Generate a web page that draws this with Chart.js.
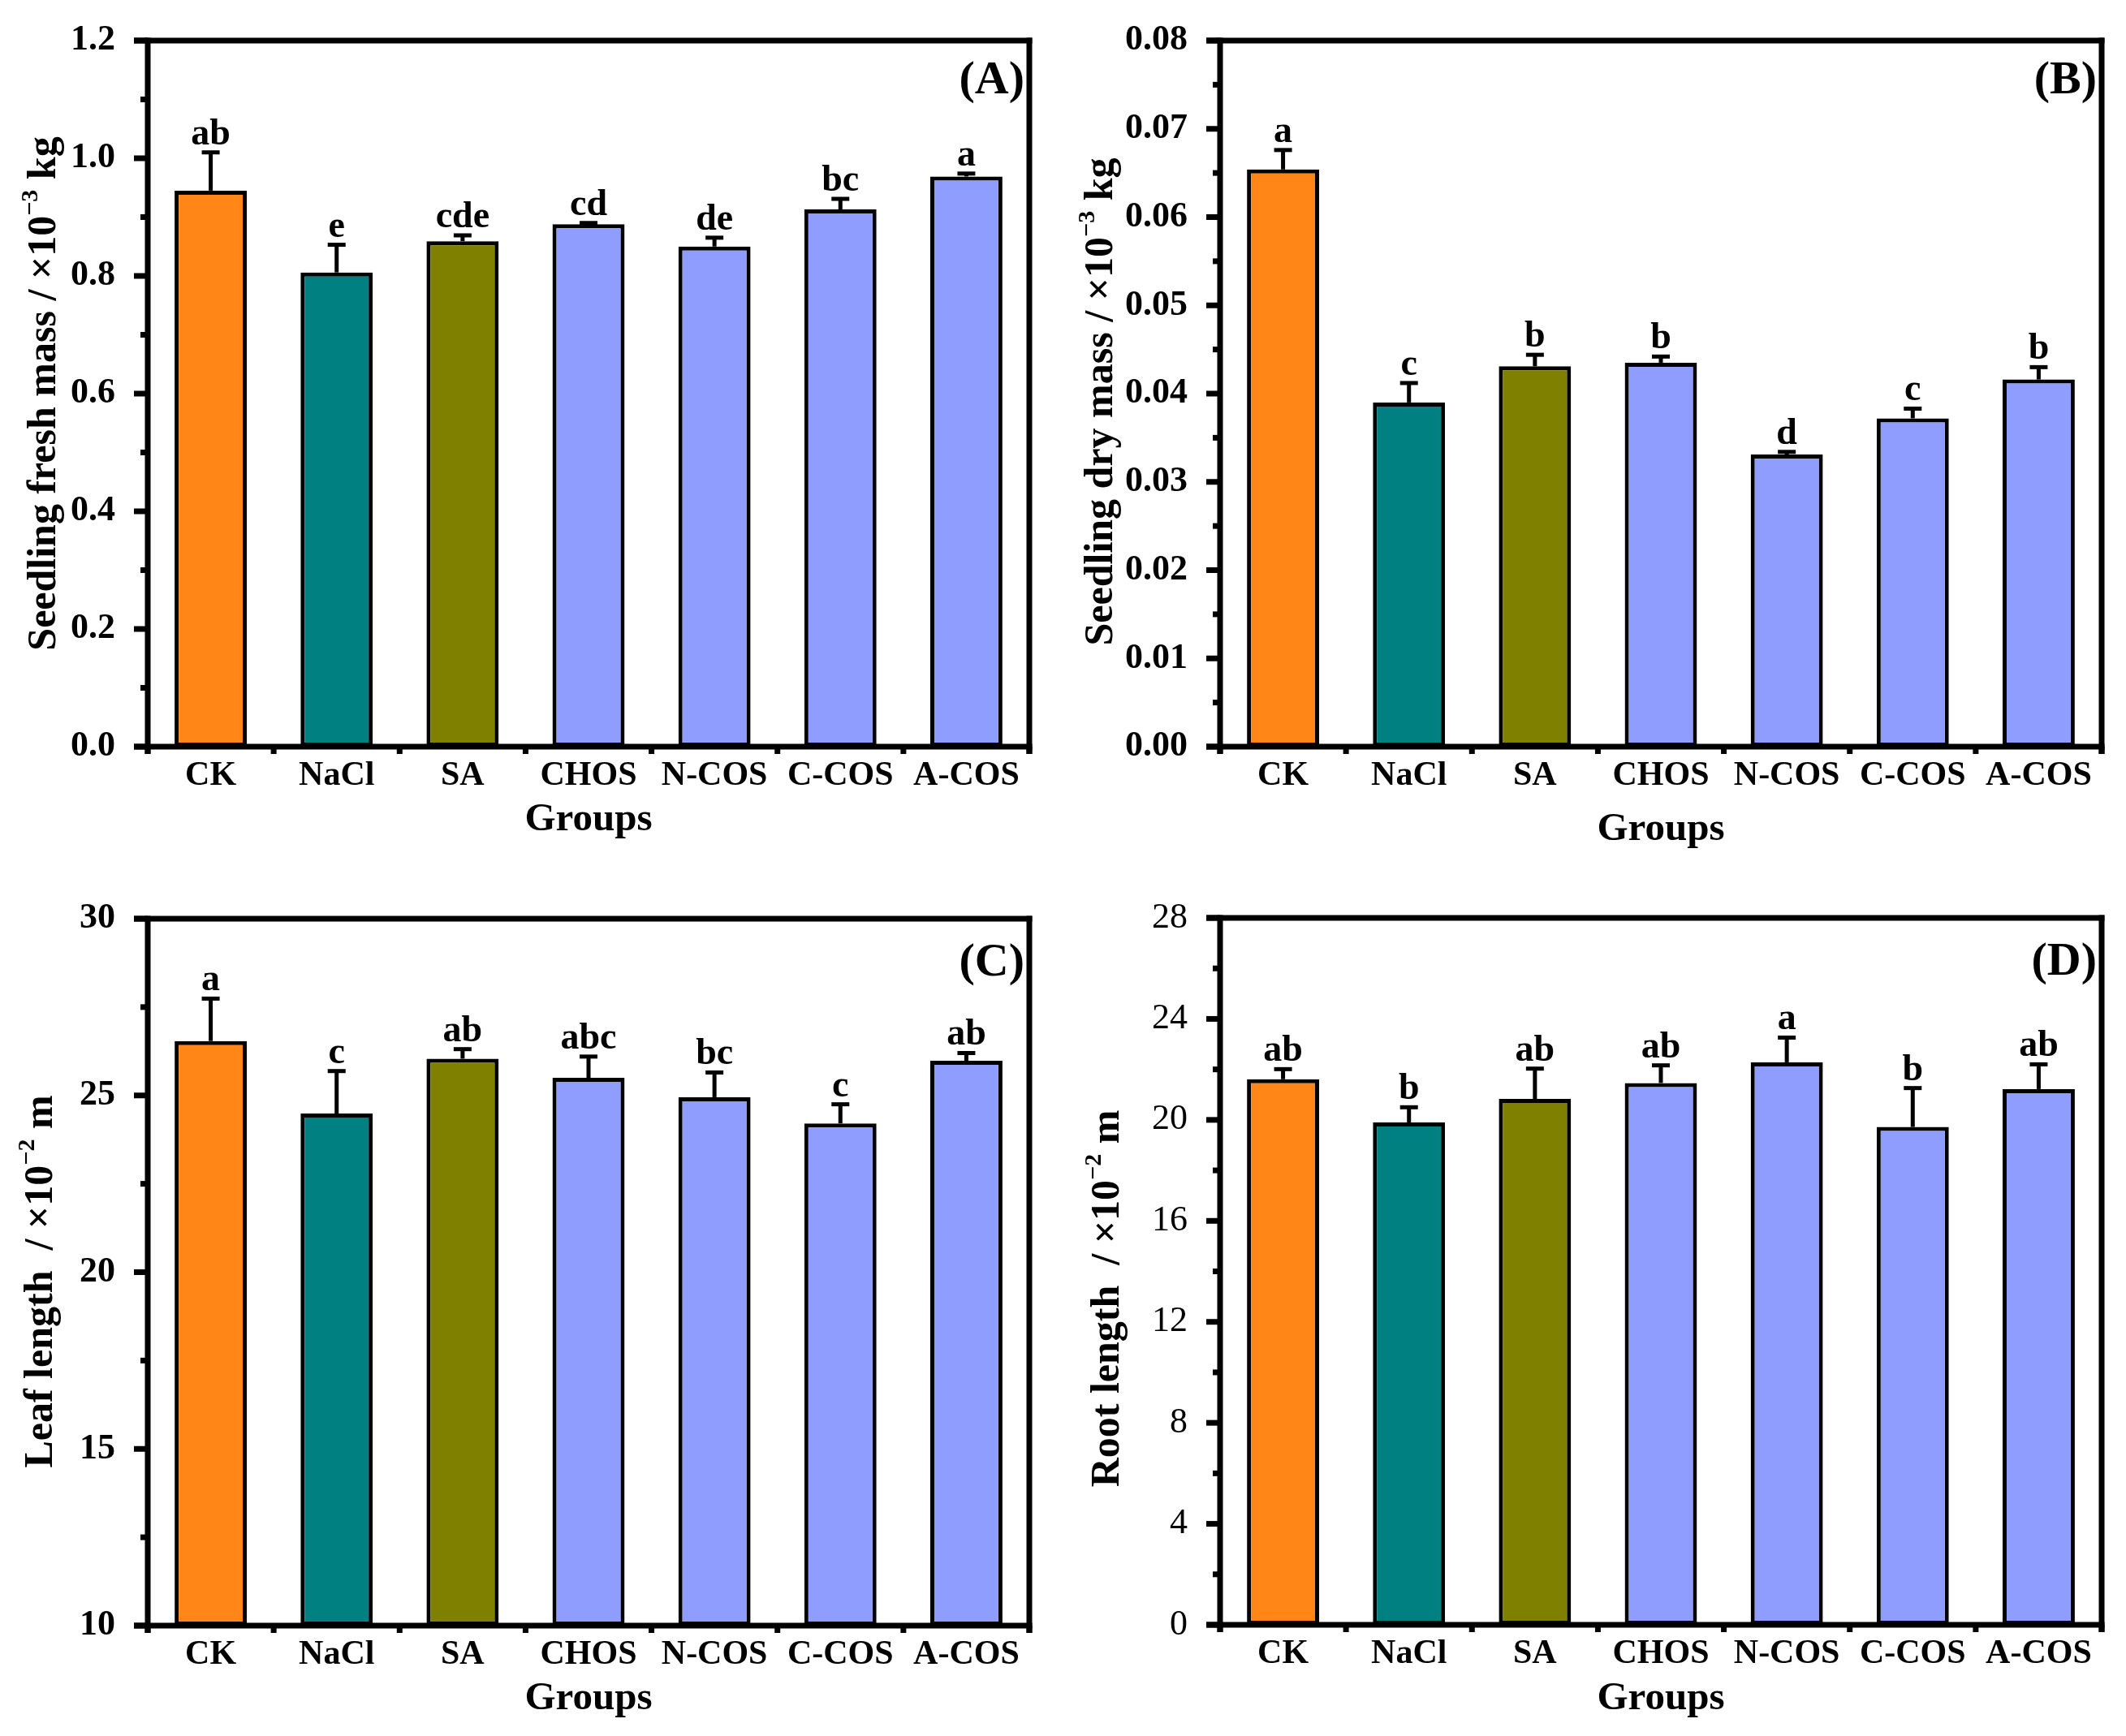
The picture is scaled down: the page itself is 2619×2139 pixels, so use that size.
<!DOCTYPE html>
<html>
<head>
<meta charset="utf-8">
<script src="https://cdn.jsdelivr.net/npm/chart.js@4.4.1/dist/chart.umd.min.js"></script>
<style>
  body { margin: 0; background: #fff; width: 2619px; height: 2139px; position: relative; overflow: hidden; }
  canvas { position: absolute; }
</style>
</head>
<body>
<canvas id="chartA" width="1310" height="1070" style="left:0px;top:0px;width:1310px;height:1070px"></canvas>
<canvas id="chartB" width="1309" height="1070" style="left:1310px;top:0px;width:1309px;height:1070px"></canvas>
<canvas id="chartC" width="1310" height="1069" style="left:0px;top:1070px;width:1310px;height:1069px"></canvas>
<canvas id="chartD" width="1309" height="1069" style="left:1310px;top:1070px;width:1309px;height:1069px"></canvas>
<script>
const groups = ['CK', 'NaCl', 'SA', 'CHOS', 'N-COS', 'C-COS', 'A-COS'];
const barColors = ['#FF8617', '#008080', '#808000', '#8E9DFF', '#8E9DFF', '#8E9DFF', '#8E9DFF'];

// (A) seedling fresh mass
const freshMass = [0.945, 0.806, 0.859, 0.888, 0.850, 0.913, 0.969];
const freshMassSd = [0.065, 0.047, 0.010, 0.002, 0.015, 0.018, 0.005];
const freshMassSig = ['ab', 'e', 'cde', 'cd', 'de', 'bc', 'a'];

// (B) seedling dry mass
const dryMass = [0.0654, 0.0390, 0.0431, 0.0435, 0.0331, 0.0372, 0.0416];
const dryMassSd = [0.0022, 0.0022, 0.0013, 0.0007, 0.0003, 0.0011, 0.0014];
const dryMassSig = ['a', 'c', 'b', 'b', 'd', 'c', 'b'];

// (C) leaf length
const leafLength = [26.54, 24.49, 26.04, 25.50, 24.95, 24.21, 25.98];
const leafLengthSd = [1.20, 1.20, 0.27, 0.60, 0.70, 0.54, 0.22];
const leafLengthSig = ['a', 'c', 'ab', 'abc', 'bc', 'c', 'ab'];

// (D) root length
const rootLength = [21.61, 19.90, 20.83, 21.46, 22.28, 19.72, 21.22];
const rootLengthSd = [0.40, 0.60, 1.20, 0.70, 0.98, 1.54, 0.98];
const rootLengthSig = ['ab', 'b', 'ab', 'ab', 'a', 'b', 'ab'];

const FONT = '"Liberation Serif", "Times New Roman", serif';

function line(ctx, x1, y1, x2, y2) {
  ctx.beginPath();
  ctx.moveTo(x1, y1);
  ctx.lineTo(x2, y2);
  ctx.stroke();
}

// error bars, letters, frame, ticks, y title and panel tag
const panelDeco = {
  id: 'panelDeco',
  afterDatasetsDraw(chart, args, o) {
    const ctx = chart.ctx;
    const xs = chart.scales.x, ys = chart.scales.y;
    const { left, right, top, bottom } = chart.chartArea;
    const vals = chart.data.datasets[0].data;
    ctx.save();
    ctx.strokeStyle = '#000';
    ctx.fillStyle = '#000';
    ctx.lineCap = 'butt';

    // error bars + letters
    vals.forEach((v, i) => {
      const px = xs.getPixelForValue(i);
      const y0 = ys.getPixelForValue(v);
      const y1 = ys.getPixelForValue(v + o.sd[i]);
      ctx.lineWidth = 5;
      line(ctx, px, y0, px, y1);
      line(ctx, px - 11, y1, px + 11, y1);
      ctx.font = 'bold 46px ' + FONT;
      ctx.textAlign = 'center';
      ctx.textBaseline = 'alphabetic';
      ctx.fillText(o.sig[i], px, y1 - 10);
    });

    // frame
    ctx.lineWidth = 7;
    line(ctx, left - 17, top, right + 3.5, top);
    line(ctx, left - 17, bottom, right + 3.5, bottom);
    line(ctx, left, top - 3.5, left, bottom + 9);
    line(ctx, right, top - 3.5, right, bottom + 9);

    // y ticks, major and minor
    const yo = chart.options.scales.y;
    const n = Math.round((yo.max - yo.min) / o.minor);
    for (let k = 0; k <= n; k++) {
      const py = ys.getPixelForValue(yo.min + k * o.minor);
      line(ctx, left - (k % 2 ? 9 : 17), py, left, py);
    }
    // x ticks between categories
    const nc = groups.length;
    for (let i = 0; i <= nc; i++) {
      const px = left + i * (right - left) / nc;
      line(ctx, px, bottom, px, bottom + 9);
    }

    // y axis title with superscript
    ctx.translate(o.titleX, o.titleY);
    ctx.rotate(-Math.PI / 2);
    ctx.textAlign = 'left';
    ctx.textBaseline = 'alphabetic';
    const mainFont = 'bold 50px ' + FONT, supFont = 'bold 30px ' + FONT;
    ctx.font = mainFont;
    const w1 = ctx.measureText(o.title[0]).width;
    const w3 = ctx.measureText(o.title[2]).width;
    ctx.font = supFont;
    const w2 = ctx.measureText(o.title[1]).width;
    let sx = -(w1 + w2 + w3) / 2;
    ctx.font = mainFont;
    ctx.fillText(o.title[0], sx, 0);
    ctx.font = supFont;
    ctx.fillText(o.title[1], sx + w1, -22);
    ctx.font = mainFont;
    ctx.fillText(o.title[2], sx + w1 + w2, 0);
    ctx.restore();

    // panel tag
    ctx.save();
    ctx.font = 'bold 58px ' + FONT;
    ctx.fillStyle = '#000';
    ctx.textAlign = 'right';
    ctx.textBaseline = 'alphabetic';
    ctx.fillText(o.tag, right - 6, top + o.tagDy);
    ctx.restore();
  }
};

function makePanel(id, p) {
  new Chart(document.getElementById(id), {
    type: 'bar',
    data: {
      labels: groups,
      datasets: [{
        data: p.values,
        backgroundColor: barColors,
        borderColor: '#000',
        borderWidth: 5,
        borderSkipped: false,
        barPercentage: 0.573,
        categoryPercentage: 1,
        base: p.min
      }]
    },
    options: {
      responsive: false,
      animation: false,
      devicePixelRatio: 1,
      layout: { padding: p.pad },
      plugins: {
        legend: { display: false },
        tooltip: { enabled: false },
        panelDeco: {
          sd: p.sd, sig: p.sig, minor: p.minor, title: p.title,
          titleX: p.titleX, titleY: p.titleY, tag: p.tag, tagDy: p.tagDy
        }
      },
      scales: {
        x: {
          grid: { display: false, drawTicks: false },
          border: { display: false },
          ticks: {
            color: '#000', padding: 11, maxRotation: 0, autoSkip: false,
            font: { family: FONT, size: 42, weight: 'bold' }
          },
          title: {
            display: true, text: 'Groups', color: '#000', padding: 0,
            font: { family: FONT, size: 49, weight: 'bold' }
          },
          afterFit: s => { s.height = p.xHeight; s.paddingLeft = 0; s.paddingRight = 0; }
        },
        y: {
          min: p.min,
          max: p.max,
          grid: { display: false, drawTicks: false },
          border: { display: false },
          ticks: {
            stepSize: p.step, color: '#000', padding: 40,
            callback: v => v.toFixed(p.dec),
            font: { family: FONT, size: 44, weight: p.tickWeight }
          },
          afterFit: s => { s.width = p.yWidth; s.paddingTop = 0; s.paddingBottom = 0; }
        }
      }
    },
    plugins: [panelDeco]
  });
}

makePanel('chartA', {
  values: freshMass, sd: freshMassSd, sig: freshMassSig,
  min: 0, max: 1.2, step: 0.2, minor: 0.1, dec: 1, tickWeight: 'bold',
  title: ['Seedling fresh mass / \u00d710', '\u22123', ' kg'],
  titleX: 68, titleY: 485, tag: '(A)', tagDy: 65,
  pad: { top: 50, left: 0, right: 42, bottom: 30 }, yWidth: 182, xHeight: 120
});

makePanel('chartB', {
  values: dryMass, sd: dryMassSd, sig: dryMassSig,
  min: 0, max: 0.08, step: 0.01, minor: 0.005, dec: 2, tickWeight: 'bold',
  title: ['Seedling dry mass / \u00d710', '\u22123', ' kg'],
  titleX: 60, titleY: 495, tag: '(B)', tagDy: 65,
  pad: { top: 50, left: 0, right: 30, bottom: 18 }, yWidth: 193, xHeight: 132
});

makePanel('chartC', {
  values: leafLength, sd: leafLengthSd, sig: leafLengthSig,
  min: 10, max: 30, step: 5, minor: 2.5, dec: 0, tickWeight: 'bold',
  title: ['Leaf length  / \u00d710', '\u22122', ' m'],
  titleX: 64, titleY: 509, tag: '(C)', tagDy: 70,
  pad: { top: 62, left: 0, right: 42, bottom: 16 }, yWidth: 182, xHeight: 1069 - 16 - 933
});

makePanel('chartD', {
  values: rootLength, sd: rootLengthSd, sig: rootLengthSig,
  min: 0, max: 28, step: 4, minor: 2, dec: 0, tickWeight: 'normal',
  title: ['Root length  / \u00d710', '\u22122', ' m'],
  titleX: 68, titleY: 530, tag: '(D)', tagDy: 70,
  pad: { top: 61, left: 0, right: 30, bottom: 16 }, yWidth: 193, xHeight: 1069 - 16 - 932
});
</script>
</body>
</html>
